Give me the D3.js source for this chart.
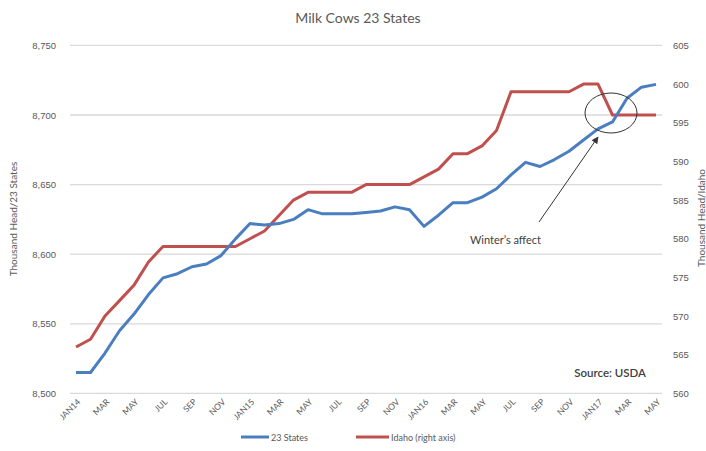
<!DOCTYPE html>
<html><head><meta charset="utf-8">
<script src="https://cdn.jsdelivr.net/npm/d3@7"></script>
<style>body{margin:0;background:#fff;}svg{display:block;font-family:Lato,"Open Sans",sans-serif;}</style>
</head><body><svg id="c" width="706" height="451"></svg>
<script>
const months = ["JAN14","FEB","MAR","APR","MAY","JUN","JUL","AUG","SEP","OCT","NOV","DEC",
"JAN15","FEB","MAR","APR","MAY","JUN","JUL","AUG","SEP","OCT","NOV","DEC",
"JAN16","FEB","MAR","APR","MAY","JUN","JUL","AUG","SEP","OCT","NOV","DEC",
"JAN17","FEB","MAR","APR","MAY"];
const states23 = [8515,8515,8529,8545,8557,8571,8583,8586,8591,8593,8599,8611,
8622,8621,8622,8625,8632,8629,8629,8629,8630,8631,8634,8632,
8620,8628,8637,8637,8641,8647,8657,8666,8663,8668,8674,8682,
8690,8695,8712,8720,8722];
const idaho = [566,567,570,572,574,577,579,579,579,579,579,579,
580,581,583,585,586,586,586,586,587,587,587,587,
588,589,591,591,592,594,599,599,599,599,599,600,
600,596,596,596,596];
const leftTicks = [8500,8550,8600,8650,8700,8750];
const rightTicks = [560,565,570,575,580,585,590,595,600,605];

const svg = d3.select("#c");
const L = 70, R = 662, T = 45.4, B = 393.4;
const keys = months.map((m,i)=>i);
const x = d3.scalePoint().domain(keys).range([76,656]);
const yL = d3.scaleLinear().domain([8500,8750]).range([B,T]);
const yR = d3.scaleLinear().domain([560,605]).range([B,T]);
const txt = "#595959";

// gridlines
svg.append("g").selectAll("line").data(leftTicks).join("line")
  .attr("x1",L).attr("x2",R).attr("y1",d=>yL(d)).attr("y2",d=>yL(d))
  .attr("stroke","#d9d9d9").attr("stroke-width",1.3);

// left axis
const gl = svg.append("g").attr("transform",`translate(${L},0)`)
  .call(d3.axisLeft(yL).tickValues(leftTicks).tickFormat(d3.format(",")).tickSize(0).tickPadding(14));
gl.select(".domain").remove();
gl.selectAll("text").attr("fill",txt).attr("font-size",9.5);

// right axis
const gr = svg.append("g").attr("transform",`translate(${R},0)`)
  .call(d3.axisRight(yR).tickValues(rightTicks).tickSize(0).tickPadding(11));
gr.select(".domain").remove();
gr.selectAll("text").attr("fill",txt).attr("font-size",9.5);

// x labels
svg.append("g").selectAll("text").data(keys.filter(i=>i%2===0)).join("text")
  .attr("transform",i=>`translate(${x(i)+5},${B+9}) rotate(-45)`)
  .attr("text-anchor","end").attr("font-size",8.5).attr("fill",txt)
  .text(i=>months[i]);

// lines
const lineL = d3.line().x((d,i)=>x(i)).y(d=>yL(d));
const lineR = d3.line().x((d,i)=>x(i)).y(d=>yR(d));
svg.append("path").attr("d",lineR(idaho)).attr("fill","none")
  .attr("stroke","#c0504d").attr("stroke-width",3).attr("stroke-linejoin","round");
svg.append("path").attr("d",lineL(states23)).attr("fill","none")
  .attr("stroke","#4a7ebf").attr("stroke-width",3).attr("stroke-linejoin","round");

// title
svg.append("text").attr("x",358).attr("y",23).attr("text-anchor","middle")
  .attr("font-size",14).attr("fill",txt).text("Milk Cows 23 States");

// axis titles
svg.append("text").attr("transform","translate(17,219) rotate(-90)").attr("text-anchor","middle")
  .attr("font-size",10).attr("fill",txt).text("Thousand Head/23 States");
svg.append("text").attr("transform","translate(705,218) rotate(-90)").attr("text-anchor","middle")
  .attr("font-size",10).attr("fill",txt).text("Thousand Head/Idaho");

// legend
const lg = svg.append("g");
lg.append("line").attr("x1",241).attr("x2",269).attr("y1",437).attr("y2",437).attr("stroke","#4a7ebf").attr("stroke-width",3);
lg.append("text").attr("x",271).attr("y",440.5).attr("font-size",9).attr("fill",txt).text("23 States");
lg.append("line").attr("x1",356).attr("x2",389).attr("y1",437).attr("y2",437).attr("stroke","#c0504d").attr("stroke-width",3);
lg.append("text").attr("x",391).attr("y",440.5).attr("font-size",9).attr("fill",txt).text("Idaho (right axis)");

// source
svg.append("text").attr("x",646).attr("y",377).attr("text-anchor","end")
  .attr("font-size",11.5).attr("font-weight",600).attr("fill","#404040").text("Source: USDA");

// annotation
svg.append("defs").append("marker").attr("id","ah").attr("viewBox","0 0 10 10")
  .attr("refX",9).attr("refY",5).attr("markerWidth",7).attr("markerHeight",7).attr("orient","auto")
  .append("path").attr("d","M0,0 L10,5 L0,10 z").attr("fill","#333");
svg.append("line").attr("x1",539).attr("y1",222).attr("x2",598).attr("y2",137)
  .attr("stroke","#333").attr("stroke-width",1).attr("marker-end","url(#ah)");
svg.append("ellipse").attr("cx",611).attr("cy",113).attr("rx",26).attr("ry",20)
  .attr("fill","none").attr("stroke","#333").attr("stroke-width",1);
svg.append("text").attr("x",470).attr("y",244).attr("font-size",11).attr("fill","#404040").text("Winter\u2019s affect");
</script></body></html>
